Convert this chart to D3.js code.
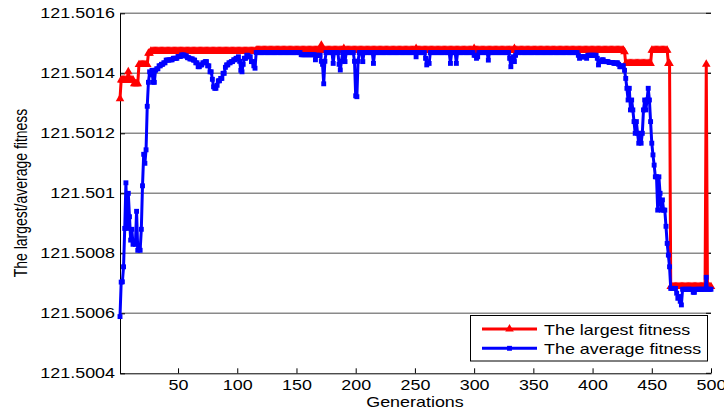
<!DOCTYPE html>
<html>
<head>
<meta charset="utf-8">
<script src="https://cdn.jsdelivr.net/npm/d3@7"></script>
<style>
  body { margin: 0; background: #fff; }
  svg { display: block; font-family: "Liberation Sans", Arial, sans-serif; }
</style>
</head>
<body>
<svg id="chart" width="724" height="411"></svg>
<script>
// Axis ticks
const xTicks = [50, 100, 150, 200, 250, 300, 350, 400, 450, 500];
const yTicks = [121.5004, 121.5006, 121.5008, 121.501, 121.5012, 121.5014, 121.5016];

// Series as [first generation, value] runs: value holds until the next run starts
const largestSteps = [
  [1, 121.501315], [2, 121.501378], [8, 121.501405], [9, 121.501378],
  [13, 121.501365], [17, 121.501429], [25, 121.501467], [27, 121.501474],
  [116, 121.501477], [171, 121.501494], [172, 121.501477], [190, 121.501483],
  [191, 121.501477], [251, 121.501483], [252, 121.501477], [300, 121.501483],
  [301, 121.501477], [334, 121.501483], [335, 121.501477], [427, 121.501472],
  [428, 121.501433], [450, 121.501477], [464, 121.501433], [466, 121.500689],
  [496, 121.501430], [497, 121.500689]
];

const averageSteps = [
  [1, 121.500589], [2, 121.500704], [3, 121.500705], [4, 121.500755],
  [5, 121.500883], [6, 121.501035], [7, 121.500883], [8, 121.501000],
  [9, 121.500922], [10, 121.500844], [11, 121.500880], [12, 121.500830],
  [13, 121.500840], [14, 121.500830], [15, 121.500940], [16, 121.500810],
  [17, 121.500815], [18, 121.500810], [19, 121.500880], [20, 121.501025],
  [21, 121.501130], [22, 121.501100], [23, 121.501145], [24, 121.501290],
  [25, 121.501370], [26, 121.501405], [27, 121.501395], [28, 121.501410],
  [29, 121.501370], [31, 121.501410], [32, 121.501415], [34, 121.501425],
  [36, 121.501430], [38, 121.501435], [40, 121.501444], [43, 121.501445],
  [46, 121.501450], [50, 121.501456], [53, 121.501461], [56, 121.501458],
  [58, 121.501452], [60, 121.501448], [63, 121.501444], [65, 121.501435],
  [67, 121.501422], [69, 121.501428], [71, 121.501435], [73, 121.501439],
  [75, 121.501425], [77, 121.501405], [79, 121.501380], [80, 121.501355],
  [81, 121.501350], [83, 121.501360], [84, 121.501375], [86, 121.501383],
  [88, 121.501400], [90, 121.501420], [91, 121.501428], [93, 121.501435],
  [95, 121.501439], [97, 121.501445], [99, 121.501450], [101, 121.501455],
  [102, 121.501440], [103, 121.501410], [104, 121.501405], [105, 121.501430],
  [106, 121.501450], [108, 121.501460], [110, 121.501455], [112, 121.501439],
  [114, 121.501425], [115, 121.501417], [116, 121.501469], [154, 121.501462],
  [166, 121.501445], [167, 121.501460], [171, 121.501440], [172, 121.501430],
  [173, 121.501365], [174, 121.501440], [175, 121.501469], [181, 121.501433],
  [182, 121.501469], [186, 121.501430], [187, 121.501411], [188, 121.501440],
  [189, 121.501469], [191, 121.501439], [192, 121.501469], [199, 121.501440],
  [200, 121.501325], [201, 121.501322], [202, 121.501440], [203, 121.501469],
  [206, 121.501439], [207, 121.501469], [215, 121.501433], [216, 121.501469],
  [251, 121.501455], [252, 121.501469], [259, 121.501450], [260, 121.501428],
  [261, 121.501435], [262, 121.501433], [263, 121.501469], [280, 121.501433],
  [281, 121.501469], [285, 121.501433], [286, 121.501469], [300, 121.501460],
  [302, 121.501450], [303, 121.501455], [304, 121.501469], [312, 121.501444],
  [313, 121.501469], [330, 121.501450], [331, 121.501422], [332, 121.501440],
  [333, 121.501455], [334, 121.501439], [335, 121.501460], [336, 121.501469],
  [388, 121.501460], [389, 121.501450], [390, 121.501455], [395, 121.501450],
  [396, 121.501460], [404, 121.501450], [405, 121.501428], [406, 121.501439],
  [408, 121.501445], [410, 121.501439], [414, 121.501436], [418, 121.501433],
  [420, 121.501435], [422, 121.501430], [423, 121.501422], [425, 121.501425],
  [427, 121.501410], [428, 121.501383], [429, 121.501350], [430, 121.501311],
  [431, 121.501350], [432, 121.501278], [433, 121.501311], [434, 121.501278],
  [435, 121.501239], [436, 121.501200], [437, 121.501239], [438, 121.501200],
  [439, 121.501167], [440, 121.501200], [441, 121.501167], [442, 121.501200],
  [443, 121.501278], [444, 121.501311], [445, 121.501278], [446, 121.501311],
  [447, 121.501350], [448, 121.501311], [449, 121.501239], [450, 121.501167],
  [451, 121.501128], [452, 121.501094], [453, 121.501055], [454, 121.501055],
  [455, 121.500944], [456, 121.501055], [457, 121.501000], [458, 121.500944],
  [459, 121.500978], [460, 121.500944], [461, 121.500944], [462, 121.500890],
  [463, 121.500833], [464, 121.500794], [465, 121.500755], [466, 121.500683],
  [471, 121.500667], [472, 121.500650], [473, 121.500656], [474, 121.500640],
  [475, 121.500628], [476, 121.500680], [485, 121.500670], [487, 121.500680],
  [496, 121.500720], [497, 121.500680]
];

const lastGen = 500;
const seriesNames = ["The largest fitness", "The average fitness"];
const seriesColors = ["#ff0000", "#0000ff"];

// Text in the picture is stretched sideways
const stretch = 1.28;

function expandSteps(steps) {
  let out = [];
  for (let i = 0; i < steps.length; i++) {
    let end = i + 1 < steps.length ? steps[i + 1][0] : lastGen + 1;
    for (let g = steps[i][0]; g < end; g++) out.push({ gen: g, val: steps[i][1] });
  }
  return out;
}

const largest = expandSteps(largestSteps);
const average = expandSteps(averageSteps);

const svg = d3.select("#chart");
svg.append("rect").attr("width", 724).attr("height", 411).attr("fill", "#fff");

const x = d3.scaleLinear().domain([1, lastGen]).range([120, 711]);
const y = d3.scaleLinear().domain([121.5004, 121.5016]).range([373.3, 13.3]);

// Horizontal grid
svg.append("g").selectAll("line")
  .data(yTicks.slice(1))
  .join("line")
    .attr("x1", 120).attr("x2", 711)
    .attr("y1", d => y(d)).attr("y2", d => y(d))
    .attr("stroke", "#8a8a8a").attr("stroke-width", 1.5);

// Little ticks on the right side
svg.append("g").selectAll("line")
  .data(yTicks)
  .join("line")
    .attr("x1", 706).attr("x2", 711)
    .attr("y1", d => y(d)).attr("y2", d => y(d))
    .attr("stroke", "#000");

const yAxis = svg.append("g")
  .attr("transform", "translate(120,0)")
  .call(d3.axisLeft(y).tickValues(yTicks).tickSizeInner(-5).tickSizeOuter(0).tickPadding(5)
    .tickFormat(d => String(+d.toFixed(4))));

const xAxis = svg.append("g")
  .attr("transform", "translate(0,373.3)")
  .call(d3.axisBottom(x).tickValues(xTicks).tickSizeInner(-5).tickSizeOuter(0).tickPadding(7));

[yAxis, xAxis].forEach(ax => {
  ax.selectAll("path, line").attr("stroke", "#000");
  ax.selectAll("text").attr("font-size", 14).attr("fill", "#000")
    .attr("font-family", "Liberation Sans, Arial, sans-serif");
});
yAxis.selectAll("text").attr("x", 0).attr("transform", `translate(-5,0) scale(${stretch},1)`);
xAxis.selectAll("text").attr("transform", `scale(${stretch},1)`);

// Axis titles
svg.append("text")
  .attr("transform", `translate(415,407) scale(${stretch},1)`)
  .attr("text-anchor", "middle").attr("font-size", 14)
  .text("Generations");

svg.append("text")
  .attr("transform", `translate(27,193) rotate(-90) scale(1,${stretch})`)
  .attr("text-anchor", "middle").attr("font-size", 14)
  .text("The largest/average fitness");

// Series
const line = d3.line().x(d => x(d.gen)).y(d => y(d.val));
const triangle = d3.symbol(d3.symbolTriangle, 32);
const square = d3.symbol(d3.symbolSquare, 24);

function drawSeries(data, color, shape) {
  let g = svg.append("g");
  g.append("path").datum(data)
    .attr("d", line).attr("fill", "none")
    .attr("stroke", color).attr("stroke-width", 3).attr("stroke-linejoin", "round");
  g.selectAll("path.mk")
    .data(data)
    .join("path").attr("class", "mk")
      .attr("d", shape)
      .attr("transform", d => `translate(${x(d.gen)},${y(d.val)})`)
      .attr("fill", color);
}

drawSeries(largest, seriesColors[0], triangle);
drawSeries(average, seriesColors[1], square);

// Legend
const legend = svg.append("g");
legend.append("rect")
  .attr("x", 470.5).attr("y", 315.5).attr("width", 237).attr("height", 45.5)
  .attr("fill", "#fff").attr("stroke", "#000");

const legendY = [329, 348.3];
const shapes = [triangle, square];
seriesNames.forEach((name, i) => {
  legend.append("line")
    .attr("x1", 482).attr("x2", 537).attr("y1", legendY[i]).attr("y2", legendY[i])
    .attr("stroke", seriesColors[i]).attr("stroke-width", 3);
  legend.append("path")
    .attr("d", shapes[i]).attr("fill", seriesColors[i])
    .attr("transform", `translate(509.5,${legendY[i]})`);
  legend.append("text")
    .attr("transform", `translate(544,${legendY[i] + 5.5}) scale(${stretch},1)`)
    .attr("font-size", 14).text(name);
});
</script>
</body>
</html>
